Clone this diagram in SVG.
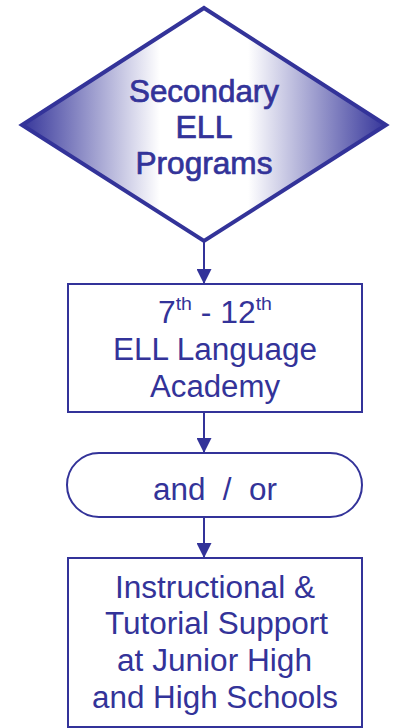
<svg xmlns="http://www.w3.org/2000/svg" width="393" height="728" viewBox="0 0 393 728">
<style>
.t{font-family:"Liberation Sans",Arial,sans-serif;fill:#333399;text-anchor:middle}
.d{font-size:31px;stroke:#333399;stroke-width:0.7}
.b{font-size:31px}
.box{fill:#fff;stroke:#333399;stroke-width:2}
.ln{stroke:#333399;stroke-width:2;fill:none}
</style>
<defs>
<linearGradient id="g" x1="20" y1="0" x2="388" y2="0" gradientUnits="userSpaceOnUse">
<stop offset="0" stop-color="#333399"/>
<stop offset="0.38" stop-color="#ffffff"/>
<stop offset="0.62" stop-color="#ffffff"/>
<stop offset="1" stop-color="#333399"/>
</linearGradient>
<marker id="ah" viewBox="0 0 15 15" refX="15" refY="7.5" markerWidth="15" markerHeight="15" markerUnits="userSpaceOnUse" orient="auto">
<path d="M0,0 L15,7.5 L0,15 Z" fill="#333399"/>
</marker>
</defs>
<g id="connectors">
<line class="ln" x1="204" y1="241" x2="204" y2="284" marker-end="url(#ah)"/>
<line class="ln" x1="204" y1="412" x2="204" y2="453" marker-end="url(#ah)"/>
<line class="ln" x1="204" y1="517" x2="204" y2="558" marker-end="url(#ah)"/>
</g>
<g id="diamond">
<polygon points="204,8 386,125 204,241 22,125" fill="url(#g)" stroke="#333399" stroke-width="4" stroke-linejoin="miter"/>
<text class="t d" x="204" y="102" textLength="150" lengthAdjust="spacingAndGlyphs">Secondary</text>
<text class="t d" x="204" y="138" textLength="57" lengthAdjust="spacingAndGlyphs">ELL</text>
<text class="t d" x="204" y="174" textLength="137" lengthAdjust="spacingAndGlyphs">Programs</text>
</g>
<g id="academy">
<rect class="box" x="68" y="284" width="294" height="128"/>
<text class="t b" x="215" y="323" textLength="114" lengthAdjust="spacingAndGlyphs">7<tspan font-size="19" dy="-13">th</tspan><tspan dy="13"> - 12</tspan><tspan font-size="19" dy="-13">th</tspan></text>
<text class="t b" x="215" y="360" textLength="204" lengthAdjust="spacingAndGlyphs">ELL Language</text>
<text class="t b" x="215" y="397" textLength="130" lengthAdjust="spacingAndGlyphs">Academy</text>
</g>
<g id="andor">
<rect class="box" x="67" y="453" width="295" height="64" rx="32" ry="32"/>
<text class="t b" x="215" y="500" textLength="124" lengthAdjust="spacingAndGlyphs" xml:space="preserve">and  /  or</text>
</g>
<g id="support">
<rect class="box" x="68" y="558" width="294" height="169"/>
<text class="t b" x="215" y="598" textLength="200" lengthAdjust="spacingAndGlyphs">Instructional &amp;</text>
<text class="t b" x="216.5" y="634" textLength="223" lengthAdjust="spacingAndGlyphs">Tutorial Support</text>
<text class="t b" x="214.5" y="671" textLength="195" lengthAdjust="spacingAndGlyphs">at Junior High</text>
<text class="t b" x="215" y="708" textLength="246" lengthAdjust="spacingAndGlyphs">and High Schools</text>
</g>
</svg>
